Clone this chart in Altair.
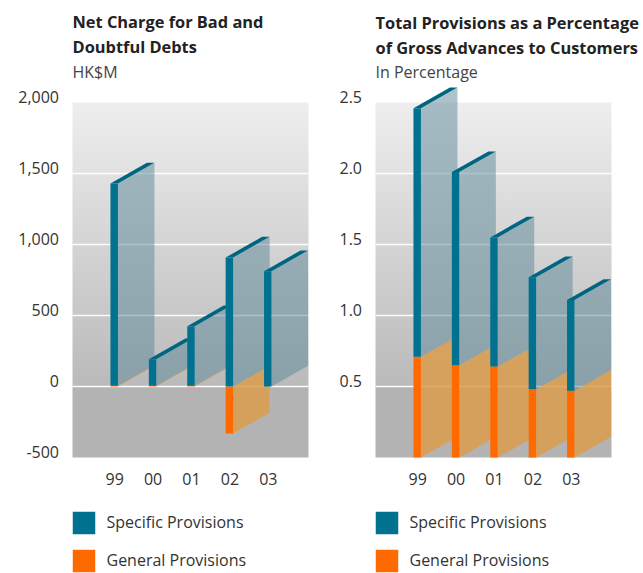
import altair as alt
import pandas as pd

# ---- data -----------------------------------------------------------------
YEARS = ["99", "00", "01", "02", "03"]

# Net charge for bad and doubtful debts (HK$M)
NET_SPECIFIC = [1425, 187, 420, 908, 812]
NET_GENERAL = [5, 5, 5, -331, 0]

# Total provisions as a percentage of gross advances to customers
PCT_SPECIFIC = [1.75, 1.36, 0.91, 0.79, 0.64]
PCT_GENERAL = [0.71, 0.65, 0.64, 0.48, 0.47]

NET_TICKS = [-500, 0, 500, 1000, 1500, 2000]
NET_GRID = [0, 500, 1000, 1500]
PCT_TICKS = [0.5, 1.0, 1.5, 2.0, 2.5]
PCT_GRID = [0.5, 1.0, 1.5, 2.0]

SPECIFIC = "Specific Provisions"
GENERAL = "General Provisions"

# ---- style ----------------------------------------------------------------
FONT = "Open Sans"
TEAL = "#00718e"
TEAL_TOP = "#006580"
ORANGE = "#ff6a00"
SIDE_TEAL = "#5a8799"
SIDE_ORANGE = "#db9c4c"
TEXT = "#333333"

PLOT_W = 236
PLOT_H = 355
X_MIN, X_MAX = -1.086, 5.06      # bar i sits at x = i
BAR_W = 0.195                    # width of the front face (x units)
DEPTH_X = 0.95                   # horizontal depth of the pseudo-3D faces (x units)
DEPTH_PX = 20.7                  # vertical rise of the depth, in pixels


def build_frames(specific, general, y_min, y_max):
    depth_y = DEPTH_PX * (y_max - y_min) / PLOT_H
    k = BAR_W / DEPTH_X
    fronts, sides, tops = [], [], []
    for i, (yr, s, g) in enumerate(zip(YEARS, specific, general)):
        g_lo, g_hi = min(g, 0), max(g, 0)
        segments = []
        if g != 0:
            segments.append((GENERAL, g_lo, g_hi))
        segments.append((SPECIFIC, g_hi, g_hi + s))
        xl, xr = i - BAR_W / 2, i + BAR_W / 2
        for kind, lo, hi in segments:
            fronts.append(dict(kind=kind, x=xl, x2=xr, lo=lo, hi=hi))
            sid = f"{yr}-{kind}"
            sides.append(dict(id=sid, kind=kind, x=xr, lo=lo, hi=hi))
            sides.append(dict(id=sid, kind=kind, x=xr + DEPTH_X,
                              lo=lo + depth_y, hi=hi + depth_y))
        top = g_hi + s
        for x, upper, lower in [
            (xl, top, top),
            (xr, top + depth_y * k, top),
            (xl + DEPTH_X, top + depth_y, top + depth_y * (1 - k)),
            (xr + DEPTH_X, top + depth_y, top + depth_y),
        ]:
            tops.append(dict(id=yr, x=x, hi=upper, lo=lower))
    return pd.DataFrame(fronts), pd.DataFrame(sides), pd.DataFrame(tops)


def panel(specific, general, y_min, y_max, base, ticks, grid, fmt,
          title_lines, subtitle, title_offset):
    fronts, sides, tops = build_frames(specific, general, y_min, y_max)
    xs = alt.Scale(domain=[X_MIN, X_MAX], nice=False, zero=False)
    ys = alt.Scale(domain=[y_min, y_max], nice=False, zero=False)

    year_expr = "[" + ",".join(f"'{y}'" for y in YEARS) + "][datum.value]"
    x_axis = alt.Axis(
        values=list(range(len(YEARS))), labelExpr=year_expr, title=None,
        grid=False, domain=False, ticks=False, labelFont=FONT,
        labelFontSize=16, labelColor=TEXT, labelPadding=14)
    y_axis = alt.Axis(
        values=ticks, format=fmt, labelExpr="replace(datum.label, '\u2212', '-')",
        title=None, grid=False, domain=False, ticks=False, labelFont=FONT,
        labelFontSize=16, labelColor=TEXT, labelPadding=14,
        labelBaseline="alphabetic")

    def X(field="x:Q"):
        return alt.X(field, scale=xs, axis=x_axis)

    def Y(field="hi:Q"):
        return alt.Y(field, scale=ys, axis=y_axis, stack=None)

    bands = pd.DataFrame({"x": [X_MIN, X_MIN], "x2": [X_MAX, X_MAX],
                          "lo": [base, y_min], "hi": [y_max, base],
                          "part": ["upper", "lower"]})
    gradient = alt.LinearGradient(
        gradient="linear", x1=0, y1=0, x2=0, y2=1,
        stops=[alt.GradientStop(color="#eeeeee", offset=0),
               alt.GradientStop(color="#bababa", offset=1)])
    upper_bg = alt.Chart(bands[bands.part == "upper"]).mark_rect(color=gradient).encode(
        x=X(), x2="x2:Q", y=Y(), y2="lo:Q")
    lower_bg = alt.Chart(bands[bands.part == "lower"]).mark_rect(color="#b3b3b3").encode(
        x=X(), x2="x2:Q", y=Y(), y2="lo:Q")

    gridlines = alt.Chart(pd.DataFrame({"v": grid})).mark_rule(
        color="white", strokeWidth=1.6, opacity=0.95).encode(y=Y("v:Q"))

    def side_layer(kind, color, opacity):
        return alt.Chart(sides[sides.kind == kind]).mark_area(
            color=color, opacity=opacity).encode(
            x=X(), y=Y(), y2="lo:Q", detail="id:N")

    side_general = side_layer(GENERAL, SIDE_ORANGE, 0.85)
    side_specific = side_layer(SPECIFIC, SIDE_TEAL, 0.5)

    top_faces = alt.Chart(tops).mark_area(color=TEAL_TOP).encode(
        x=X(), y=Y(), y2="lo:Q", detail="id:N")

    front_faces = alt.Chart(fronts).mark_rect().encode(
        x=X(), x2="x2:Q", y=Y(), y2="lo:Q",
        color=alt.Color("kind:N",
                        scale=alt.Scale(domain=[SPECIFIC, GENERAL], range=[TEAL, ORANGE]),
                        legend=alt.Legend(
                            title=None, orient="none", legendX=0, legendY=409,
                            direction="vertical", symbolType="square",
                            symbolSize=506, symbolStrokeWidth=0, symbolOpacity=1,
                            labelFont=FONT, labelFontSize=16, labelColor=TEXT,
                            labelBaseline="middle", labelOffset=11, rowPadding=15,
                            padding=0)))

    return alt.layer(
        upper_bg, lower_bg, gridlines, side_general, side_specific,
        top_faces, front_faces,
    ).properties(
        width=PLOT_W, height=PLOT_H,
        title=alt.Title(
            text=title_lines, subtitle=subtitle, anchor="start", frame="group",
            font=FONT, fontSize=16.4, fontWeight="bold", color="#222222",
            lineHeight=25, subtitleFont=FONT, subtitleFontSize=16,
            subtitleColor="#444444", subtitlePadding=8, offset=title_offset),
    )


left = panel(NET_SPECIFIC, NET_GENERAL, -500, 2000, 0, NET_TICKS, NET_GRID, ",d",
             ["Net Charge for Bad and", "Doubtful Debts"], "HK$M", 9)
right = panel(PCT_SPECIFIC, PCT_GENERAL, 0, 2.5, 0.5, PCT_TICKS, PCT_GRID, ".1f",
              ["Total Provisions as a Percentage", "of Gross Advances to Customers"],
              "In Percentage", 6)

chart = alt.hconcat(left, right, spacing=29).resolve_scale(
    x="independent", y="independent", color="independent"
).configure_view(stroke=None).properties(
    padding={"left": 17.5, "top": 14.5, "right": 2, "bottom": 0},
    background="white",
)

chart.save("out.html", embed_options={"renderer": "svg", "actions": False})
